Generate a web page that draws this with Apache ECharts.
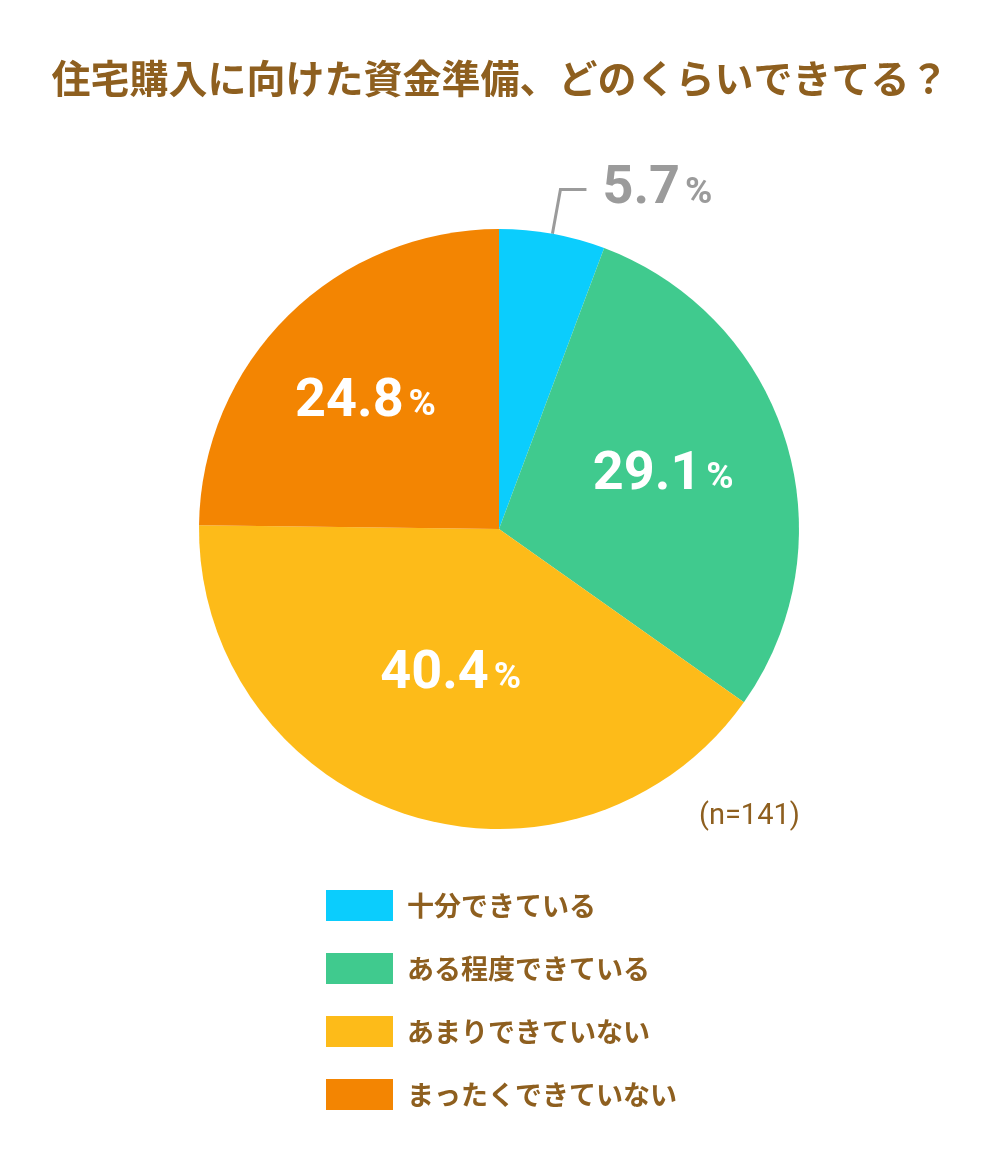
<!DOCTYPE html>
<html>
<head>
<meta charset="utf-8">
<script src="https://cdn.jsdelivr.net/npm/echarts@6/dist/echarts.min.js"></script>
<style>
html,body{margin:0;padding:0;background:#fff;}
#chart{width:1000px;height:1173px;}
</style>
</head>
<body>
<div id="chart"></div>
<script>
const titleText = '住宅購入に向けた資金準備、どのくらいできてる？';
const sampleNote = '(n=141)';
const categories = ['十分できている', 'ある程度できている', 'あまりできていない', 'まったくできていない'];
const values = [5.7, 29.1, 40.4, 24.8];
const colors = ['#0BCDFD', '#40CA8E', '#FDBB19', '#F38502'];

const brown = '#8E5F1F';
const numFont = "'Roboto', 'DejaVu Sans Condensed', sans-serif";

const insidePad = [null, [0, 0, 18, 36], [0, 2, 0, 0], [0, 52, 36, 0]];

function richFor(color) {
  return {
    n: { fontSize: 54, fontWeight: 'bold', color: color, fontFamily: numFont },
    p: { fontSize: 37, fontWeight: 'bold', color: color, fontFamily: numFont, padding: [8, 0, 0, 5] }
  };
}

const pieData = categories.map((name, i) => {
  const item = { name: name, value: values[i], itemStyle: { color: colors[i] } };
  if (i === 0) {
    item.label = {
      position: 'outside',
      formatter: '{n|{c}}{p|%}',
      distanceToLabelLine: 16,
      rich: richFor('#9B9B9B')
    };
    item.labelLine = { show: true, length: 45, length2: 26, lineStyle: { color: '#9B9B9B', width: 3 } };
  } else {
    item.label = {
      position: 'inside',
      formatter: '{n|{c}}{p|%}',
      padding: insidePad[i],
      rich: richFor('#fff')
    };
    item.labelLine = { show: false };
  }
  return item;
});

const chart = echarts.init(document.getElementById('chart'), null, { renderer: 'canvas' });
chart.setOption({
  backgroundColor: '#fff',
  animation: false,
  title: [
    {
      text: titleText,
      left: 'center',
      top: 54,
      textStyle: { fontSize: 39, fontWeight: 'bold', color: brown, fontFamily: "'Noto Sans CJK JP', sans-serif" }
    },
    {
      text: sampleNote,
      left: 694,
      top: 797,
      textStyle: { fontSize: 29, fontWeight: 'normal', color: brown, fontFamily: numFont }
    }
  ],
  legend: {
    orient: 'vertical',
    left: 326,
    top: 890,
    padding: 0,
    icon: 'rect',
    itemWidth: 67,
    itemHeight: 31,
    itemGap: 32,
    selectedMode: false,
    data: categories,
    textStyle: {
      fontSize: 27,
      fontWeight: 'bold',
      color: brown,
      fontFamily: "'Noto Sans CJK JP', sans-serif",
      padding: [0, 0, 0, 9]
    }
  },
  series: [{
    type: 'pie',
    center: [499, 529],
    radius: [0, 300],
    startAngle: 90,
    clockwise: true,
    avoidLabelOverlap: false,
    silent: true,
    itemStyle: { borderWidth: 0 },
    data: pieData
  }]
});
</script>
</body>
</html>
